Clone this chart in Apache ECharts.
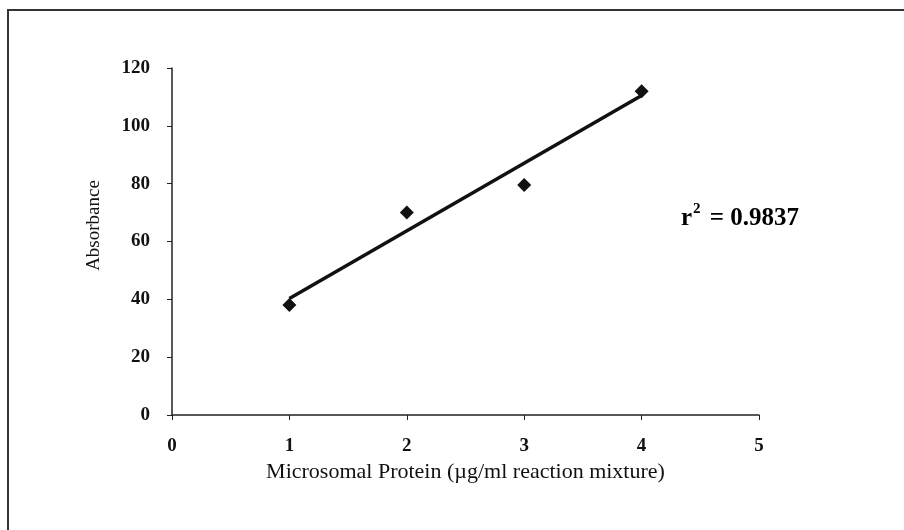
<!DOCTYPE html>
<html>
<head>
<meta charset="utf-8">
<script src="https://cdn.jsdelivr.net/npm/echarts@6/dist/echarts.min.js"></script>
<style>
html, body { margin: 0; padding: 0; background: #fff; }
#main { width: 904px; height: 530px; }
</style>
</head>
<body>
<div id="main"></div>
<script>
// measured points
var protein = [1, 2, 3, 4];
var absorbance = [38, 70, 79.5, 112];
// trend line ends
var trendX = [1, 4];
var trendY = [40.3, 110.5];
var xTicks = [0, 1, 2, 3, 4, 5];
var yTicks = [0, 20, 40, 60, 80, 100, 120];
var rSquared = '0.9837';

var font = 'Liberation Serif';

var points = protein.map(function (x, i) { return [x, absorbance[i]]; });
var trend = trendX.map(function (x, i) { return [x, trendY[i]]; });

var myChart = echarts.init(document.getElementById('main'));
var option = {
	animation: false,
	backgroundColor: '#fff',
	textStyle: { fontFamily: font, color: '#111' },
	graphic: [
		{ // frame
			type: 'polyline',
			shape: { points: [[8, 530], [8, 10], [904, 10]] },
			style: { stroke: '#333', lineWidth: 2, fill: null }
		},
		{
			type: 'text',
			left: 681, top: 202,
			style: {
				text: '{b|r}{s|2}{b| = ' + rSquared + '}',
				rich: {
					b: { fontFamily: font, fontSize: 25, fontWeight: 'bold', color: '#111', verticalAlign: 'bottom' },
					s: { fontFamily: font, fontSize: 15, fontWeight: 'bold', color: '#111', verticalAlign: 'top', padding: [0, 3, 14, 1] }
				}
			}
		}
	],
	grid: { left: 172, right: 145, top: 68, bottom: 115, containLabel: false },
	xAxis: {
		type: 'value',
		min: 0, max: 5, interval: 1,
		name: 'Microsomal Protein (\u00b5g/ml reaction mixture)',
		nameLocation: 'middle',
		nameGap: 42,
		nameTextStyle: { fontFamily: font, fontSize: 22, color: '#111' },
		axisLine: { lineStyle: { color: '#222', width: 1.5 } },
		axisTick: { inside: false, length: 5, lineStyle: { color: '#222' } },
		axisLabel: { fontFamily: font, fontSize: 19, fontWeight: 'bold', color: '#111', margin: 22 },
		splitLine: { show: false }
	},
	yAxis: {
		type: 'value',
		min: 0, max: 120, interval: 20,
		name: 'Absorbance',
		nameLocation: 'middle',
		nameGap: 68,
		nameTextStyle: { fontFamily: font, fontSize: 19, color: '#111', padding: [0, 0, 0, 32] },
		axisLine: { show: true, lineStyle: { color: '#222', width: 1.5 } },
		axisTick: { show: true, length: 5, lineStyle: { color: '#222' } },
		axisLabel: { fontFamily: font, fontSize: 19, fontWeight: 'bold', color: '#111', margin: 22 },
		splitLine: { show: false }
	},
	series: [
		{
			type: 'line',
			data: trend,
			symbol: 'none',
			lineStyle: { color: '#111', width: 3.5 },
			z: 2
		},
		{
			type: 'scatter',
			data: points,
			symbol: 'diamond',
			symbolSize: 14,
			itemStyle: { color: '#111', opacity: 1 },
			z: 3
		}
	]
};
myChart.setOption(option);
</script>
</body>
</html>
